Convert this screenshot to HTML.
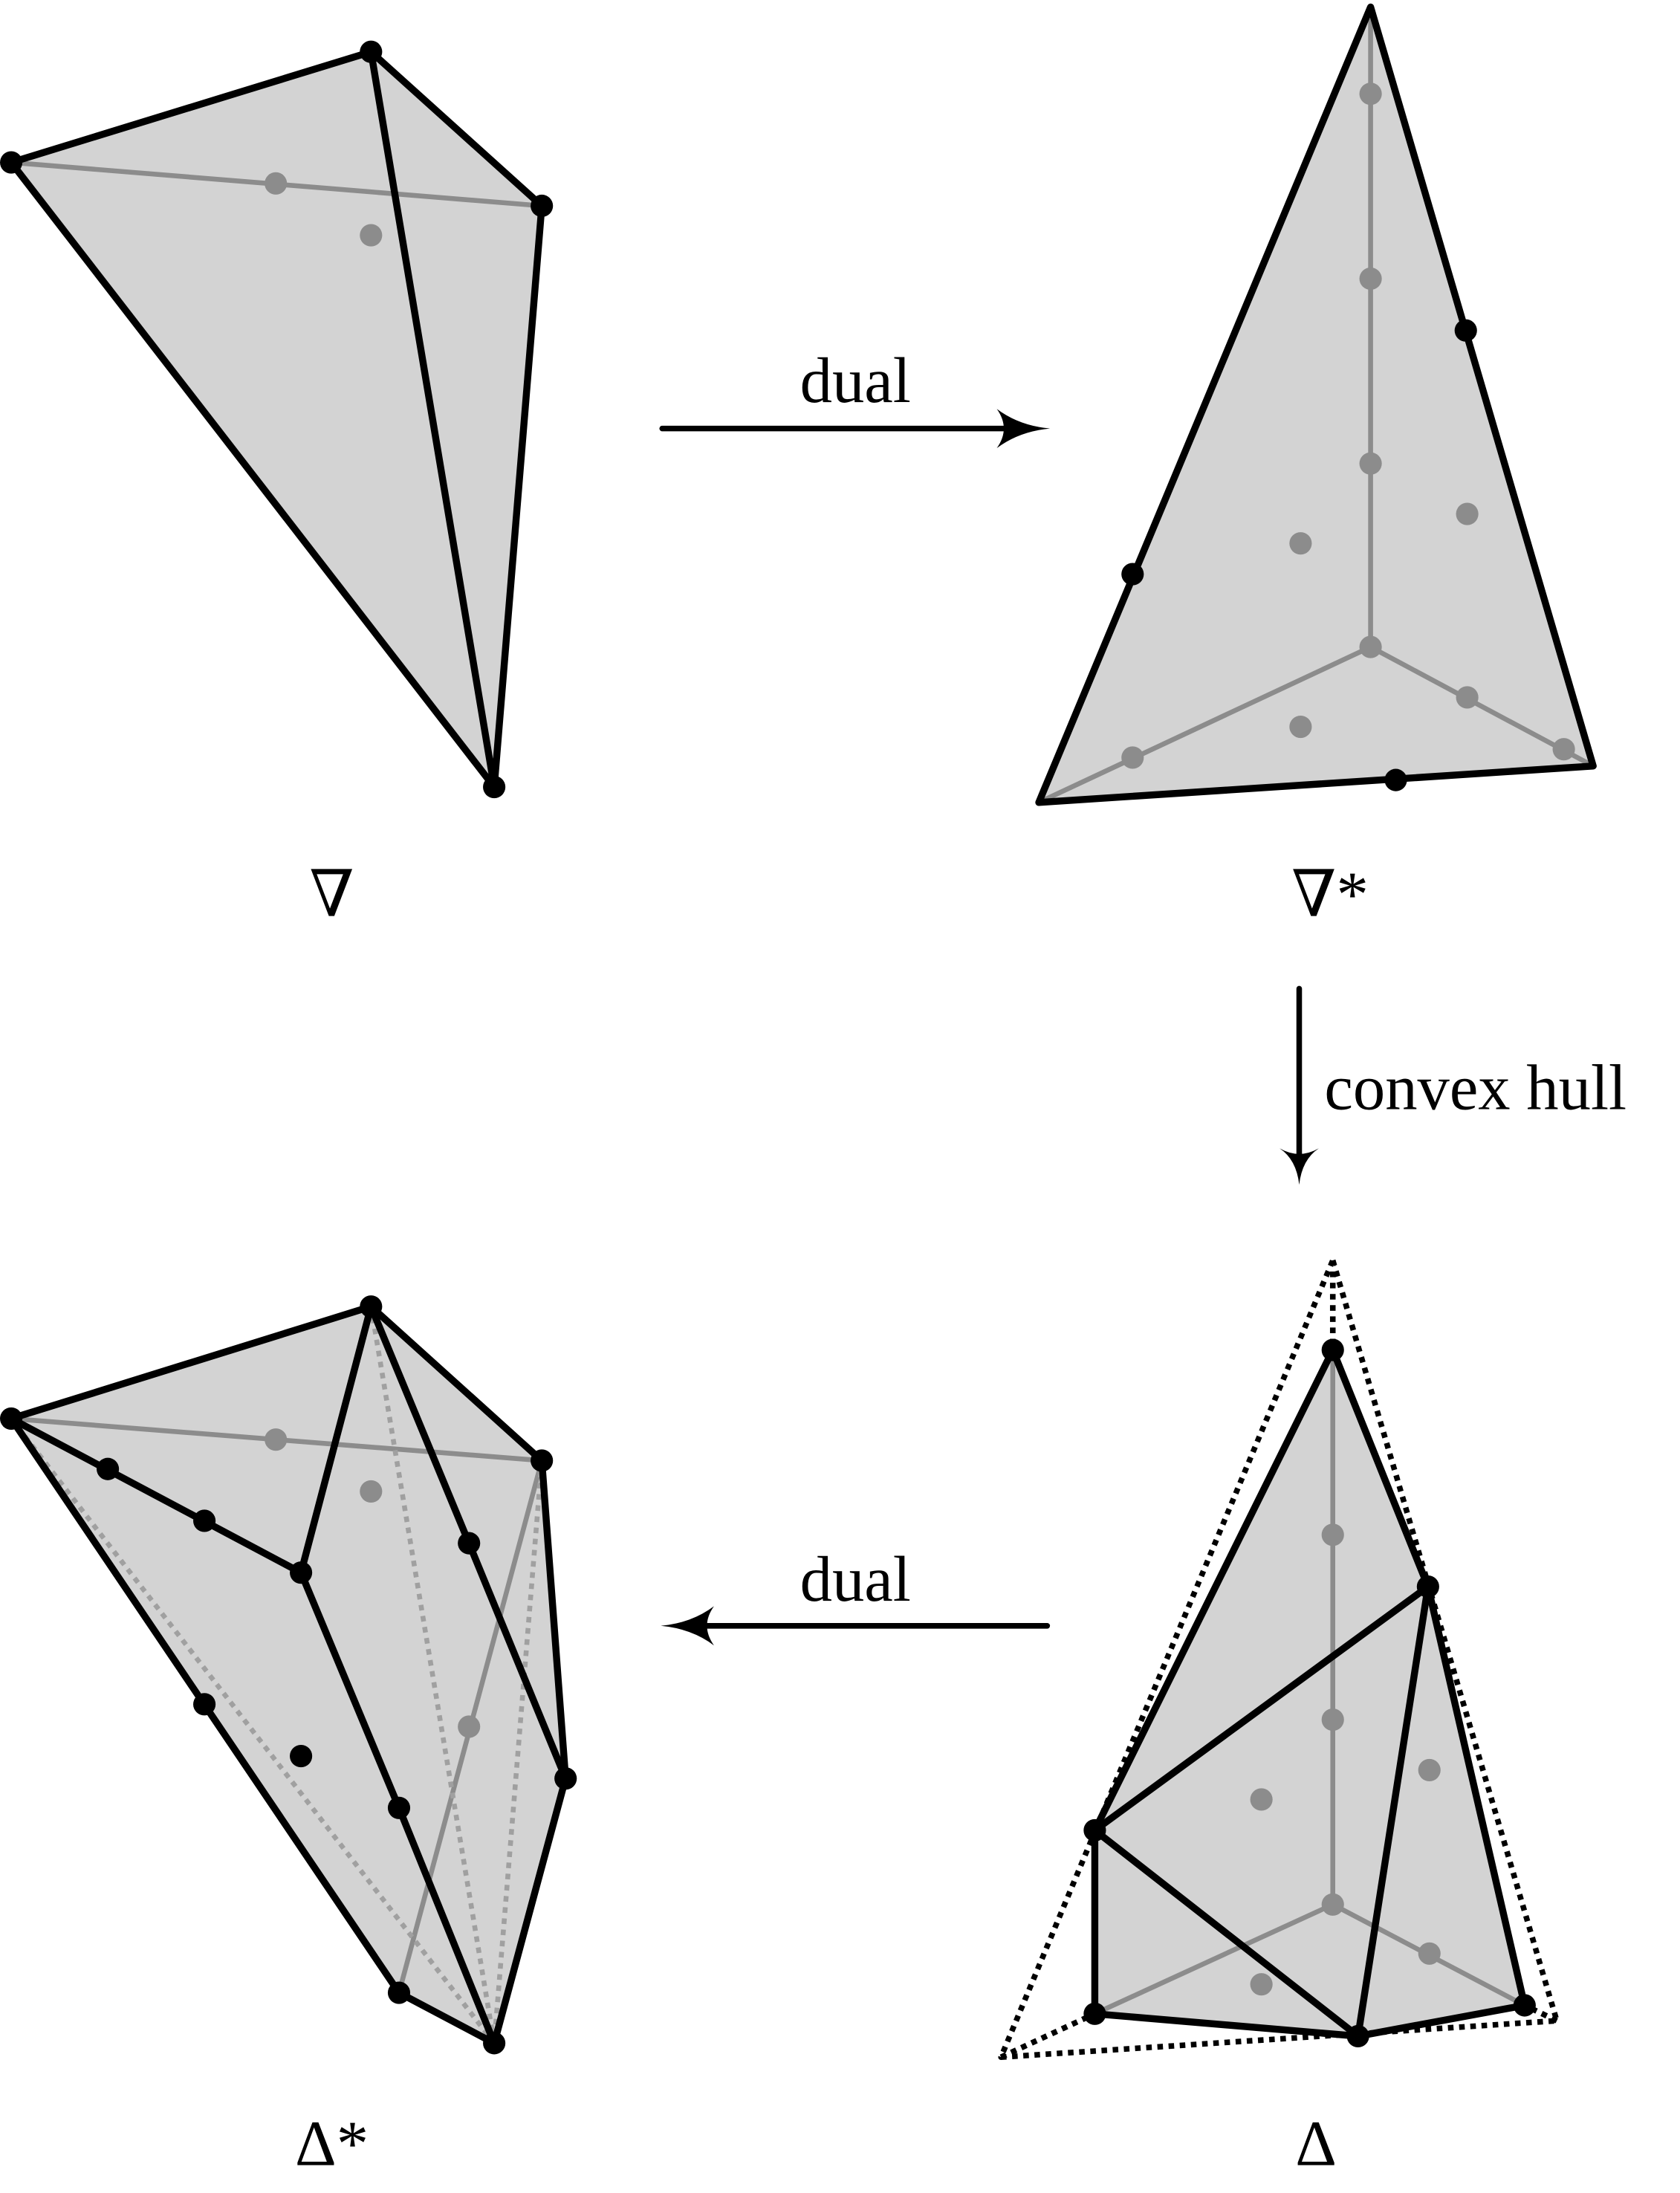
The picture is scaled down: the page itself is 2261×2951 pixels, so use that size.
<!DOCTYPE html>
<html><head><meta charset="utf-8"><style>
html,body{margin:0;padding:0;background:#fff;}
svg{display:block;}
text{font-family:"Liberation Serif","DejaVu Serif",serif;fill:#000;}
</style></head><body>
<svg width="2261" height="2951" viewBox="0 0 1200 1566" preserveAspectRatio="none" xmlns="http://www.w3.org/2000/svg">
<g stroke-linejoin="round" stroke-linecap="round">
<!-- Top-left ∇ -->
<polygon points="8,116 265,37 387,147 353,562" fill="#d3d3d3"/>
<line x1="8" y1="116" x2="387" y2="147" stroke="#8c8c8c" stroke-width="3.5"/>
<g fill="#8c8c8c"><circle cx="197" cy="131" r="8"/><circle cx="265" cy="168" r="8"/></g>
<g stroke="#000" stroke-width="5" fill="none">
<polygon points="8,116 265,37 387,147 353,562"/>
<line x1="265" y1="37" x2="353" y2="562"/>
</g>
<g fill="#000"><circle cx="8" cy="116" r="8"/><circle cx="265" cy="37" r="8"/><circle cx="387" cy="147" r="8"/><circle cx="353" cy="562" r="8"/></g>
<text x="237" y="654" font-size="46" text-anchor="middle">∇</text>

<!-- arrow dual top -->
<line x1="473" y1="306" x2="735" y2="306" stroke="#000" stroke-width="4"/>
<path d="M712,292 Q728,304 750,306 Q728,308 712,320 Q722,306 712,292 Z" fill="#000"/>
<text x="611" y="287" font-size="46" text-anchor="middle">dual</text>

<!-- Top-right ∇* -->
<polygon points="979,5 1138,547 742,573" fill="#d3d3d3"/>
<g stroke="#8c8c8c" stroke-width="3.5">
<line x1="979" y1="462" x2="979" y2="5"/><line x1="979" y1="462" x2="742" y2="573"/><line x1="979" y1="462" x2="1138" y2="547"/>
</g>
<g fill="#8c8c8c">
<circle cx="979" cy="67" r="8"/><circle cx="979" cy="199" r="8"/><circle cx="979" cy="331" r="8"/><circle cx="929" cy="388" r="8"/><circle cx="1048" cy="367" r="8"/><circle cx="929" cy="519" r="8"/><circle cx="809" cy="541" r="8"/><circle cx="1048" cy="498" r="8"/><circle cx="1117" cy="535" r="8"/><circle cx="979" cy="462" r="8"/>
</g>
<polygon points="979,5 1138,547 742,573" fill="none" stroke="#000" stroke-width="5"/>
<g fill="#000"><circle cx="1047" cy="236" r="8"/><circle cx="809" cy="410" r="8"/><circle cx="997" cy="557" r="8"/></g>
<text x="950" y="654" font-size="46" text-anchor="middle">∇*</text>

<!-- convex hull arrow -->
<line x1="928" y1="706" x2="928" y2="830" stroke="#000" stroke-width="4"/>
<path d="M914,820 Q926,828 928,846 Q930,828 942,820 Q928,828 914,820 Z" fill="#000"/>
<text x="946" y="792" font-size="46">convex hull</text>

<!-- Bottom-right Δ -->
<polygon points="952,964 1020,1133 1089,1432 970,1454 782,1438 782,1307" fill="#d3d3d3"/>
<g stroke="#8c8c8c" stroke-width="3.5">
<line x1="952" y1="1360" x2="952" y2="964"/><line x1="952" y1="1360" x2="782" y2="1438"/><line x1="952" y1="1360" x2="1089" y2="1432"/>
</g>
<g fill="#8c8c8c">
<circle cx="952" cy="1096" r="8"/><circle cx="952" cy="1228" r="8"/><circle cx="901" cy="1285" r="8"/><circle cx="1021" cy="1264" r="8"/><circle cx="901" cy="1417" r="8"/><circle cx="1021" cy="1395" r="8"/><circle cx="952" cy="1360" r="8"/>
</g>
<g stroke="#000" stroke-width="4" fill="none" stroke-dasharray="4,4" stroke-linecap="butt">
<polygon points="952,900 1112,1443 715,1469"/>
<line x1="952" y1="900" x2="952" y2="964"/><line x1="715" y1="1469" x2="782" y2="1438"/><line x1="1112" y1="1443" x2="1089" y2="1432"/>
</g>
<g stroke="#000" stroke-width="5" fill="none">
<polygon points="952,964 1020,1133 1089,1432 970,1454 782,1438 782,1307"/>
<line x1="782" y1="1307" x2="1020" y2="1133"/><line x1="782" y1="1307" x2="970" y2="1454"/><line x1="1020" y1="1133" x2="970" y2="1454"/>
</g>
<g fill="#000"><circle cx="952" cy="964" r="8"/><circle cx="1020" cy="1133" r="8"/><circle cx="1089" cy="1432" r="8"/><circle cx="970" cy="1454" r="8"/><circle cx="782" cy="1438" r="8"/><circle cx="782" cy="1307" r="8"/></g>
<text x="940" y="1546" font-size="46" text-anchor="middle">Δ</text>

<!-- arrow dual bottom -->
<line x1="748" y1="1161" x2="488" y2="1161" stroke="#000" stroke-width="4"/>
<path d="M510,1147 Q494,1159 472,1161 Q494,1163 510,1175 Q500,1161 510,1147 Z" fill="#000"/>
<text x="611" y="1143" font-size="46" text-anchor="middle">dual</text>

<!-- Bottom-left Δ* -->
<polygon points="8,1013 265,933 387,1043 404,1270 353,1459 285,1423" fill="#d3d3d3"/>
<g stroke="#8c8c8c" stroke-width="3.5">
<line x1="8" y1="1013" x2="387" y2="1043"/><line x1="387" y1="1043" x2="285" y2="1423"/>
</g>
<g stroke="#a0a0a0" stroke-width="3.5" stroke-dasharray="4,4" stroke-linecap="butt">
<line x1="8" y1="1013" x2="353" y2="1459"/><line x1="265" y1="933" x2="353" y2="1459"/><line x1="387" y1="1043" x2="353" y2="1459"/>
</g>
<g fill="#8c8c8c"><circle cx="197" cy="1028" r="8"/><circle cx="265" cy="1065" r="8"/><circle cx="335" cy="1233" r="8"/></g>
<g stroke="#000" stroke-width="5" fill="none">
<polygon points="8,1013 265,933 387,1043 404,1270 353,1459 285,1423"/>
<polyline points="8,1013 215,1123 265,933"/>
<polyline points="215,1123 285,1291 353,1459"/>
<polyline points="265,933 335,1102 404,1270"/>
</g>
<g fill="#000">
<circle cx="8" cy="1013" r="8"/><circle cx="265" cy="933" r="8"/><circle cx="387" cy="1043" r="8"/><circle cx="404" cy="1270" r="8"/><circle cx="353" cy="1459" r="8"/><circle cx="285" cy="1423" r="8"/>
<circle cx="77" cy="1049" r="8"/><circle cx="146" cy="1086" r="8"/><circle cx="215" cy="1123" r="8"/><circle cx="285" cy="1291" r="8"/><circle cx="335" cy="1102" r="8"/><circle cx="146" cy="1217" r="8"/><circle cx="215" cy="1254" r="8"/>
</g>
<text x="237" y="1546" font-size="46" text-anchor="middle">Δ*</text>
</g>
</svg>
</body></html>
